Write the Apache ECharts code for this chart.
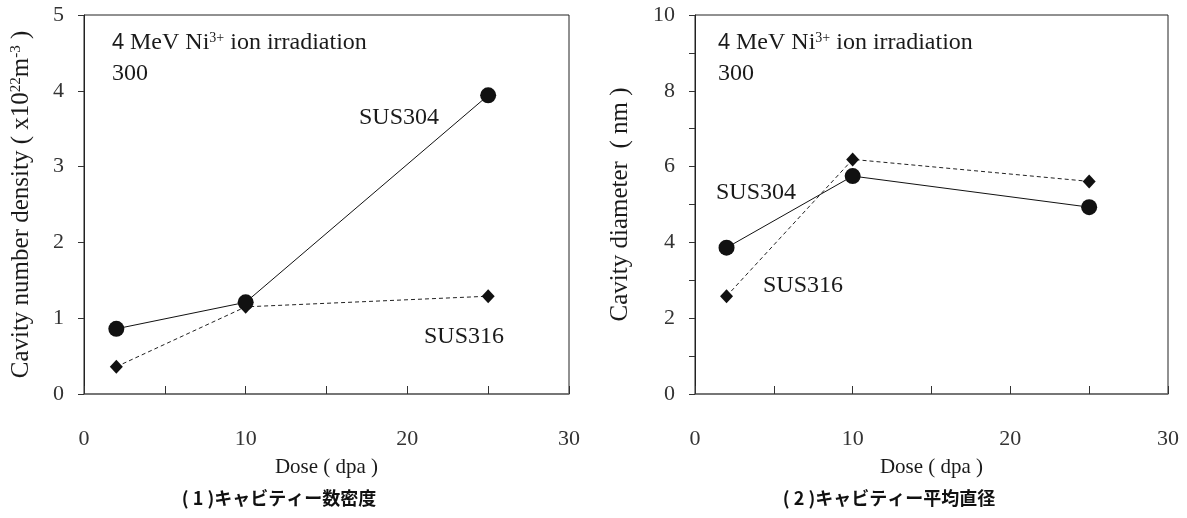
<!DOCTYPE html>
<html>
<head>
<meta charset="utf-8">
<title>Cavity density and diameter vs dose</title>
<script src="https://cdn.jsdelivr.net/npm/echarts@6/dist/echarts.min.js"></script>
<style>
  html, body { margin: 0; padding: 0; background: #fff; }
  #chart { width: 1187px; height: 518px; }
</style>
</head>
<body>
<div id="chart"></div>
<script>
// Dose points (dpa)
const dose = [2, 10, 25];
// Cavity number density (x10^22 m^-3)
const densitySUS304 = [0.86, 1.21, 3.94];
const densitySUS316 = [0.36, 1.15, 1.29];
// Cavity mean diameter (nm)
const diameterSUS304 = [3.86, 5.75, 4.93];
const diameterSUS316 = [2.58, 6.19, 5.61];
// Axis tick labels
const doseTickLabels = [0, 10, 20, 30];
const densityTickLabels = [0, 1, 2, 3, 4, 5];
const diameterTickLabels = [0, 2, 4, 6, 8, 10];

const SERIF = '"Liberation Serif", "Times New Roman", serif';
const SANS = '"Noto Sans", "DejaVu Sans", sans-serif';
const CJK = '"Noto Sans CJK JP", "Noto Sans CJK SC", sans-serif';
const INK = '#1a1a1a';

const pairs = (xs, ys) => xs.map((x, i) => [x, ys[i]]);

const chart = echarts.init(document.getElementById('chart'), null, { renderer: 'canvas' });

const supRich = {
  sup: { fontFamily: SERIF, fontSize: 15, color: INK, verticalAlign: 'top', lineHeight: 25, padding: [0, 0, 10, 0] }
};

function xAxisFor(gridIndex) {
  return {
    type: 'value', gridIndex, min: 0, max: 30, interval: 5,
    name: 'Dose ( dpa )', nameLocation: 'middle', nameGap: 63,
    nameTextStyle: { fontFamily: SERIF, fontSize: 21, color: INK },
    axisLine: { show: true, lineStyle: { color: '#6e6e6e', width: 1.5 } },
    axisTick: { show: true, inside: true, length: 8, lineStyle: { color: '#333', width: 1 } },
    axisLabel: {
      margin: 34, fontFamily: SERIF, fontSize: 22, color: '#333',
      formatter: v => (doseTickLabels.includes(v) ? String(v) : '')
    },
    splitLine: { show: false }
  };
}

function yAxisFor(gridIndex, max, labels, name, gap) {
  return {
    type: 'value', gridIndex, min: 0, max, interval: 1,
    name, nameLocation: 'middle', nameGap: gap, nameRotate: 90,
    nameTextStyle: { fontFamily: SERIF, fontSize: 25, color: INK, rich: supRich },
    axisLine: { show: true, lineStyle: { color: '#222', width: 1 } },
    axisTick: { show: true, inside: false, length: 6, lineStyle: { color: '#333', width: 1 } },
    axisLabel: {
      margin: 20, fontFamily: SERIF, fontSize: 22, color: '#333',
      formatter: v => (labels.includes(v) ? String(v) : '')
    },
    splitLine: { show: false }
  };
}

function circleSeries(xi, data) {
  return {
    type: 'line', xAxisIndex: xi, yAxisIndex: xi, data,
    symbol: 'circle', symbolSize: 16, z: 3,
    itemStyle: { color: '#111' },
    lineStyle: { color: '#111', width: 1, type: 'solid' },
    animation: false
  };
}

function diamondSeries(xi, data) {
  return {
    type: 'line', xAxisIndex: xi, yAxisIndex: xi, data,
    symbol: 'diamond', symbolSize: [13, 14], z: 2,
    itemStyle: { color: '#111' },
    lineStyle: { color: '#222', width: 1, type: [4, 3] },
    animation: false
  };
}

const noteRich = {
  four: { fontFamily: SANS, fontSize: 21, color: INK, lineHeight: 24 },
  sup: { fontFamily: SERIF, fontSize: 14, color: INK, verticalAlign: 'top', lineHeight: 24, padding: [0, 0, 10, 0] }
};

function text(x, y, content, extra) {
  return {
    type: 'text', x, y, silent: true,
    style: Object.assign({
      text: content, fontFamily: SERIF, fontSize: 24, fill: INK,
      verticalAlign: 'middle', align: 'left', rich: noteRich
    }, extra || {})
  };
}

const captionStyle = { fontFamily: CJK, fontSize: 18, fontWeight: 'bold', align: 'center', fill: '#111' };

chart.setOption({
  backgroundColor: '#fff',
  animation: false,
  grid: [
    { left: 84, right: 618, top: 15, bottom: 124, show: true, borderColor: '#222', borderWidth: 1, containLabel: false },
    { left: 695, right: 19, top: 15, bottom: 124, show: true, borderColor: '#222', borderWidth: 1, containLabel: false }
  ],
  xAxis: [xAxisFor(0), xAxisFor(1)],
  yAxis: [
    yAxisFor(0, 5, densityTickLabels, 'Cavity number density ( x10{sup|22}m{sup|-3} )', 50),
    yAxisFor(1, 10, diameterTickLabels, 'Cavity diameter  ( nm )', 62)
  ],
  series: [
    circleSeries(0, pairs(dose, densitySUS304)),
    diamondSeries(0, pairs(dose, densitySUS316)),
    circleSeries(1, pairs(dose, diameterSUS304)),
    diamondSeries(1, pairs(dose, diameterSUS316))
  ],
  graphic: [
    text(112, 43, '{four|4} MeV Ni{sup|3+} ion irradiation'),
    text(112, 74, '300'),
    text(359, 118, 'SUS304'),
    text(424, 337, 'SUS316'),
    text(718, 43, '{four|4} MeV Ni{sup|3+} ion irradiation'),
    text(718, 74, '300'),
    text(716, 193, 'SUS304'),
    text(763, 286, 'SUS316'),
    text(279, 498, '( 1 )キャビティー数密度', captionStyle),
    text(889, 498, '( 2 )キャビティー平均直径', captionStyle)
  ]
});
</script>
</body>
</html>
